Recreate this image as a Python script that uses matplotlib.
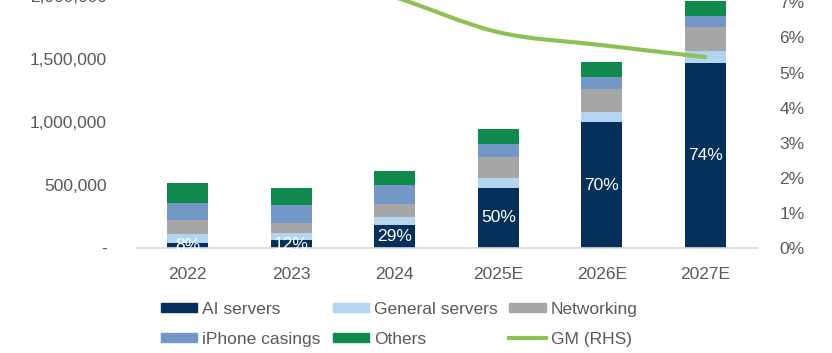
import numpy as np
import matplotlib
matplotlib.use("Agg")
import matplotlib.pyplot as plt
from matplotlib.path import Path
from matplotlib.patches import PathPatch, Patch
from matplotlib.lines import Line2D
from matplotlib.ticker import FuncFormatter

# revenue by segment (NT$m)
years = ["2022", "2023", "2024", "2025E", "2026E", "2027E"]
ai_servers = [42000, 60000, 179000, 479000, 1000000, 1465000]
general_servers = [69000, 63000, 71000, 79000, 82000, 95000]
networking = [108000, 75000, 101000, 164000, 183000, 194000]
iphone_casings = [138000, 140000, 148000, 106000, 90000, 84000]
others = [156000, 140000, 111000, 119000, 119000, 119000]
ai_share = ["8%", "12%", "29%", "50%", "70%", "74%"]
# gross margin, right axis (first three run off the top of the crop)
gm = [0.088, 0.080, 0.0715, 0.0615, 0.0578, 0.0544]

seg_colors = ["#06305C", "#B4D5F0", "#A6A6A6", "#7398C7", "#0F8A4C"]
line_color = "#8DC153"
grey_txt = "#595959"

plt.rcParams["font.family"] = ["Liberation Sans", "DejaVu Sans"]
fs = 12.5

fig = plt.figure(figsize=(8.32, 3.53), dpi=100)
W, H = 832, 353
# axes runs slightly past the top of the figure, like the cropped original
ax = fig.add_axes([136 / W, 1 - 248 / H, (757 - 136) / W, 252 / H])

x = np.arange(len(years))
bottom = np.zeros(len(years))
for vals, c in zip([ai_servers, general_servers, networking, iphone_casings, others], seg_colors):
    ax.bar(x, vals, width=0.4, bottom=bottom, color=c, zorder=2)
    bottom += np.array(vals)

for i, lab in enumerate(ai_share):
    ax.text(x[i], ai_servers[i] / 2, lab, ha="center", va="center",
            color="white", fontsize=fs, zorder=3)

ax.set_xlim(-0.5, len(years) - 0.5)
ax.set_ylim(0, 2000000)
ax.set_yticks([0, 500000, 1000000, 1500000, 2000000])
ax.yaxis.set_major_formatter(FuncFormatter(lambda v, p: "-" if v == 0 else f"{v:,.0f}"))
ax.set_xticks(x)
ax.set_xticklabels(years)
ax.tick_params(axis="both", length=0, colors=grey_txt, labelsize=fs)
ax.tick_params(axis="y", pad=21)
ax.tick_params(axis="x", pad=14)
for s in ["top", "right", "left"]:
    ax.spines[s].set_visible(False)
ax.spines["bottom"].set_color("#D9D9D9")
ax.spines["bottom"].set_linewidth(1.2)

ax2 = ax.twinx()
ax2.set_ylim(0, 0.0718)
ax2.set_yticks([i / 100 for i in range(8)])
ax2.yaxis.set_major_formatter(FuncFormatter(lambda v, p: f"{v * 100:.0f}%"))
ax2.tick_params(axis="y", length=0, colors=grey_txt, labelsize=fs, pad=16)
for s in ax2.spines.values():
    s.set_visible(False)

# smoothed GM line (Catmull-Rom through the points, drawn as bezier path)
pts = np.column_stack([x, gm]).astype(float)
ext = np.vstack([pts[0], pts, pts[-1]])
verts = [pts[0]]
codes = [Path.MOVETO]
for i in range(len(pts) - 1):
    p0, p1, p2, p3 = ext[i], ext[i + 1], ext[i + 2], ext[i + 3]
    verts += [p1 + (p2 - p0) / 6, p2 - (p3 - p1) / 6, p2]
    codes += [Path.CURVE4] * 3
ax2.add_patch(PathPatch(Path(verts, codes), facecolor="none", edgecolor=line_color,
                        lw=3, capstyle="round", zorder=4))

handles = [Patch(color=seg_colors[0], label="AI servers"),
           Patch(color=seg_colors[3], label="iPhone casings"),
           Patch(color=seg_colors[1], label="General servers"),
           Patch(color=seg_colors[4], label="Others"),
           Patch(color=seg_colors[2], label="Networking"),
           Line2D([], [], color=line_color, lw=3, label="GM (RHS)")]
leg = fig.legend(handles=handles, ncol=3, loc="upper left",
                 bbox_to_anchor=(161 / W, 1 - 302 / H), frameon=False,
                 fontsize=fs, handlelength=2.1, handleheight=0.45,
                 handletextpad=0.27, columnspacing=0.69, labelspacing=0.84,
                 borderpad=0, borderaxespad=0)
for t in leg.get_texts():
    t.set_color(grey_txt)

fig.savefig("out.png", dpi=100)
